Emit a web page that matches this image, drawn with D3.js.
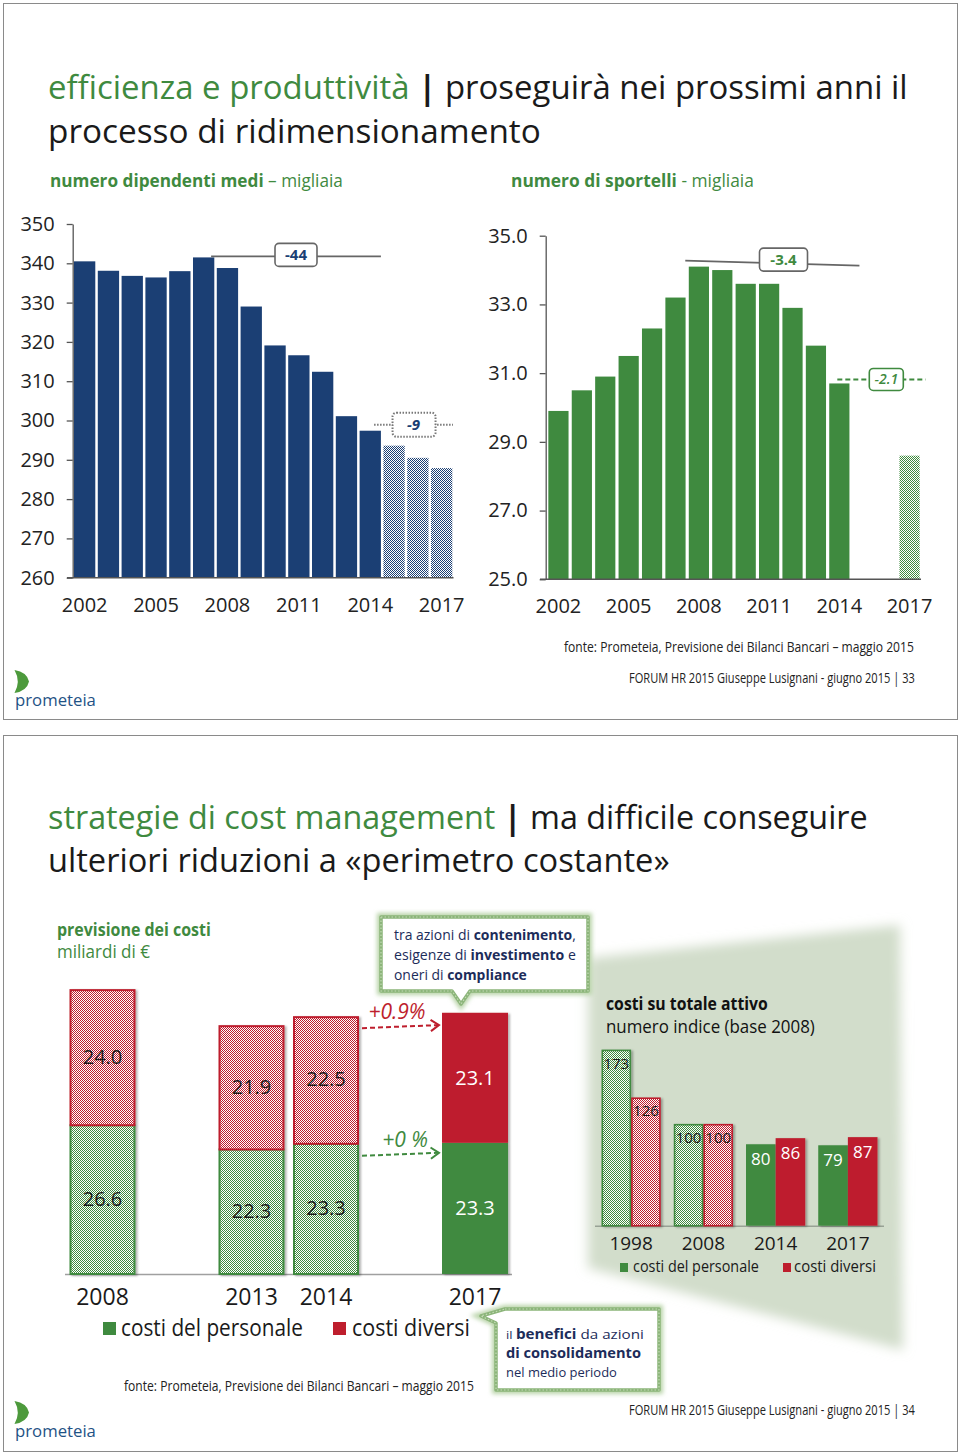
<!DOCTYPE html>
<html><head><meta charset="utf-8">
<script src="https://cdn.jsdelivr.net/npm/d3@7"></script>
<style>body{margin:0;background:#fff}svg{display:block}</style>
</head><body>
<script>
// ---------------- DATA ----------------
const years = ["2002","2003","2004","2005","2006","2007","2008","2009","2010","2011","2012","2013","2014","2015","2016","2017"];
const employees = [340.5,338.1,336.8,336.4,338.0,341.5,338.8,329.0,319.1,316.6,312.4,301.1,297.4,293.6,290.5,287.9];
const employeeForecastYears = ["2015","2016","2017"];
const branches = [29.9,30.5,30.9,31.5,32.3,33.2,34.1,34.0,33.6,33.6,32.9,31.8,30.7,null,null,28.6];
const branchForecastYears = ["2017"];
const employeeTicks = [260,270,280,290,300,310,320,330,340,350];
const branchTicks = [25,27,29,31,33,35];
const yearTickLabels = ["2002","2005","2008","2011","2014","2017"];
const employeeChanges = ["-44","-9"];
const branchChanges = ["-3.4","-2.1"];

const costYears = ["2008","2013","2014","2017"];
const costSlots = ["2008","gap-a","2013","2014","gap-b","2017"];
const staffCosts = [26.6,22.3,23.3,23.3];
const otherCosts = [24.0,21.9,22.5,23.1];
const costForecastYears = ["2017"];
const costChanges = ["+0.9%","+0 %"];

const indexYears = ["1998","2008","2014","2017"];
const staffIndex = [173,100,80,79];
const otherIndex = [126,100,86,87];
const indexSolidYears = ["2014","2017"];
const legendLabels = ["costi del personale","costi diversi"];

// ---------------- SETUP ----------------
const BLUE="#1b3f74", GREEN="#3f8a3f", RED="#be1e2d", NAVY="#1c2c5a", FONT="Open Sans";
const svg = d3.select("body").append("svg").attr("width",960).attr("height",1455);
const defs = svg.append("defs");
function checker(id,color){
  const p=defs.append("pattern").attr("id",id).attr("patternUnits","userSpaceOnUse").attr("width",2).attr("height",2);
  p.append("rect").attr("width",2).attr("height",2).attr("fill","#fff");
  p.append("rect").attr("width",1).attr("height",1).attr("fill",color);
  p.append("rect").attr("x",1).attr("y",1).attr("width",1).attr("height",1).attr("fill",color);
}
checker("chkBlue",BLUE); checker("chkGreen",GREEN); checker("chkRed",RED);
const sh=defs.append("filter").attr("id","shadow").attr("x","-20%").attr("y","-20%").attr("width","150%").attr("height","140%");
sh.append("feDropShadow").attr("dx",2).attr("dy",1).attr("stdDeviation",1.3).attr("flood-color","#000").attr("flood-opacity",0.3);
defs.append("filter").attr("id","blur").attr("x","-20%").attr("y","-20%").attr("width","140%").attr("height","140%")
  .append("feGaussianBlur").attr("stdDeviation",6);
defs.append("filter").attr("id","glow").attr("x","-20%").attr("y","-30%").attr("width","140%").attr("height","160%")
  .append("feGaussianBlur").attr("stdDeviation",2);

function fit(g,o){
  const t=g.append("text").attr("font-family",o.family||FONT).attr("font-size",o.size);
  o.parts.forEach(p=>{
    const ts=t.append("tspan").text(p.t).attr("fill",p.c||"#222")
      .attr("font-weight",p.b===true?700:(p.b||400)).attr("font-style",p.i?"italic":"normal");
    if(p.size) ts.attr("font-size",p.size);
  });
  const w=t.node().getComputedTextLength();
  const s=o.width? o.width/w : 1;
  let x0=o.x;
  if(o.anchor==="end") x0=o.x-w*s; else if(o.anchor==="middle") x0=o.x-w*s/2;
  t.attr("transform",`translate(${x0},${o.y}) scale(${s},1)`);
  return t;
}

// slide frames
svg.append("rect").attr("x",3.5).attr("y",3.5).attr("width",954).attr("height",716).attr("fill","#fff").attr("stroke","#8a8a8a");
svg.append("rect").attr("x",3.5).attr("y",735.5).attr("width",954).attr("height",716).attr("fill","#fff").attr("stroke","#8a8a8a");

function logo(dy){
  const g=svg.append("g").attr("transform",`translate(0,${dy})`);
  g.append("path").attr("d","M14.5,670 Q27,672 29,681.5 Q27,691 14.5,693 Q21,681.5 14.5,670 Z").attr("fill","#4d9a3c");
  fit(g,{x:15,y:706,size:17,width:81,parts:[{t:"prometeia",c:"#1f5285"}]});
}

// ---------------- SLIDE 1 ----------------
const s1=svg.append("g");
fit(s1,{x:48,y:99,size:33,width:860,parts:[{t:"efficienza e produttività",c:GREEN,b:500},{t:" | ",c:"#1a1a1a",b:700},{t:"proseguirà nei prossimi anni il",c:"#1a1a1a",b:500}]});
fit(s1,{x:48,y:143,size:33,width:493,parts:[{t:"processo di ridimensionamento",c:"#1a1a1a",b:500}]});
fit(s1,{x:50,y:187,size:18,width:293,parts:[{t:"numero dipendenti medi",c:GREEN,b:true},{t:" – migliaia",c:GREEN}]});
fit(s1,{x:511,y:187,size:18,width:243,parts:[{t:"numero di sportelli",c:GREEN,b:true},{t:" - migliaia",c:GREEN}]});

// employees chart
const xEmp=d3.scaleBand().domain(years).range([72.8,453.5]).paddingInner(0.105).paddingOuter(0.05);
const yEmp=d3.scaleLinear().domain([260,350]).range([577.7,224]);
const gE=s1.append("g");
gE.selectAll("rect").data(years.map((y,i)=>({year:y,v:employees[i]}))).join("rect")
  .attr("x",d=>xEmp(d.year)).attr("width",xEmp.bandwidth())
  .attr("y",d=>yEmp(d.v)).attr("height",d=>yEmp(260)-yEmp(d.v))
  .attr("fill",d=>employeeForecastYears.includes(d.year)?"url(#chkBlue)":BLUE);
const axE=gE.append("g").attr("transform","translate(72.7,0)")
  .call(d3.axisLeft(yEmp).tickValues(employeeTicks).tickSize(6).tickSizeOuter(0).tickPadding(12).tickFormat(d3.format("d")));
axE.attr("font-family",FONT).attr("font-size",20);
axE.selectAll("path,line").attr("stroke","#555").attr("stroke-width",1.3);
axE.selectAll("text").attr("fill","#222");
gE.append("line").attr("x1",67).attr("x2",453.5).attr("y1",yEmp(260)).attr("y2",yEmp(260)).attr("stroke","#555").attr("stroke-width",1.5);
gE.selectAll("text.xl").data(yearTickLabels).join("text").attr("class","xl")
  .attr("x",d=>xEmp(d)+xEmp.bandwidth()/2).attr("y",612).attr("text-anchor","middle")
  .attr("font-family",FONT).attr("font-size",20).attr("fill","#222").text(d=>d);
// annotations
{
  const bw=xEmp.bandwidth();
  const x1=xEmp("2007")+bw*0.85, x2=xEmp("2014")+bw, y=yEmp(d3.max(employees))-1;
  gE.append("line").attr("x1",x1).attr("x2",x2).attr("y1",y).attr("y2",y).attr("stroke","#666").attr("stroke-width",1.8);
  const cx=(x1+x2)/2;
  gE.append("rect").attr("x",cx-21).attr("y",y-13).attr("width",42).attr("height",23).attr("rx",4).attr("fill","#fff").attr("stroke","#666").attr("stroke-width",1.6);
  gE.append("text").attr("x",cx).attr("y",y+4).attr("text-anchor","middle").attr("font-family",FONT).attr("font-size",15).attr("font-weight",700).attr("fill",BLUE).text(employeeChanges[0]);
  const ya=yEmp(employees[years.indexOf("2014")])-6;
  const x3=xEmp("2014")+bw*0.68, x4=453;
  gE.append("line").attr("x1",x3).attr("x2",x4).attr("y1",ya).attr("y2",ya).attr("stroke","#777").attr("stroke-width",2).attr("stroke-dasharray","1.5,1.5");
  const cx2=(x3+x4)/2;
  gE.append("rect").attr("x",cx2-21).attr("y",ya-12).attr("width",43).attr("height",24).attr("rx",4).attr("fill","#fff").attr("stroke","#777").attr("stroke-width",2).attr("stroke-dasharray","1.5,1.5");
  gE.append("text").attr("x",cx2).attr("y",ya+5).attr("text-anchor","middle").attr("font-family",FONT).attr("font-size",15).attr("font-weight",700).attr("font-style","italic").attr("fill",BLUE).text(employeeChanges[1]);
}

// branches chart
const xBr=d3.scaleBand().domain(years).range([546,922]).paddingInner(0.137).paddingOuter(0.1);
const yBr=d3.scaleLinear().domain([25,35]).range([579.3,235.7]);
const gB=s1.append("g");
gB.selectAll("rect").data(years.map((y,i)=>({year:y,v:branches[i]})).filter(d=>d.v!=null)).join("rect")
  .attr("x",d=>xBr(d.year)).attr("width",xBr.bandwidth())
  .attr("y",d=>yBr(d.v)).attr("height",d=>yBr(25)-yBr(d.v))
  .attr("fill",d=>branchForecastYears.includes(d.year)?"url(#chkGreen)":GREEN);
const axB=gB.append("g").attr("transform","translate(545.7,0)")
  .call(d3.axisLeft(yBr).tickValues(branchTicks).tickSize(6).tickSizeOuter(0).tickPadding(12).tickFormat(d3.format(".1f")));
axB.attr("font-family",FONT).attr("font-size",20);
axB.selectAll("path,line").attr("stroke","#555").attr("stroke-width",1.3);
axB.selectAll("text").attr("fill","#222");
gB.append("line").attr("x1",540).attr("x2",921).attr("y1",yBr(25)).attr("y2",yBr(25)).attr("stroke","#555").attr("stroke-width",1.5);
gB.selectAll("text.xl").data(yearTickLabels).join("text").attr("class","xl")
  .attr("x",d=>xBr(d)+xBr.bandwidth()/2).attr("y",613).attr("text-anchor","middle")
  .attr("font-family",FONT).attr("font-size",20).attr("fill","#222").text(d=>d);
{
  const bw=xBr.bandwidth(), top=yBr(d3.max(branches));
  const x1=xBr("2008")-3.5, x2=xBr("2014")+bw+10;
  gB.append("line").attr("x1",x1).attr("x2",x2).attr("y1",top-6).attr("y2",top-1).attr("stroke","#666").attr("stroke-width",1.8);
  const cx=783.5, cy=top-7;
  gB.append("rect").attr("x",cx-24).attr("y",cy-11.5).attr("width",48).attr("height",23).attr("rx",4).attr("fill","#fff").attr("stroke","#666").attr("stroke-width",1.6);
  gB.append("text").attr("x",cx).attr("y",cy+5).attr("text-anchor","middle").attr("font-family",FONT).attr("font-size",15).attr("font-weight",700).attr("fill",GREEN).text(branchChanges[0]);
  const ya=yBr(branches[years.indexOf("2014")])-4;
  const x3=xBr("2014")+bw*0.4, x4=xBr("2017")+bw+6;
  gB.append("line").attr("x1",x3).attr("x2",x4).attr("y1",ya).attr("y2",ya).attr("stroke",GREEN).attr("stroke-width",2).attr("stroke-dasharray","5,3");
  const cx2=886.3;
  gB.append("rect").attr("x",cx2-17).attr("y",ya-11).attr("width",34).attr("height",22).attr("rx",4).attr("fill","#fff").attr("stroke",GREEN).attr("stroke-width",1.6);
  gB.append("text").attr("x",cx2).attr("y",ya+5).attr("text-anchor","middle").attr("font-family",FONT).attr("font-size",14).attr("font-weight",600).attr("font-style","italic").attr("fill",GREEN).text(branchChanges[1]);
}
fit(s1,{x:914,y:652,size:14,width:350,anchor:"end",parts:[{t:"fonte: Prometeia, Previsione dei Bilanci Bancari – maggio 2015",c:"#222"}]});
fit(s1,{x:915,y:683,size:14,width:286,anchor:"end",parts:[{t:"FORUM HR 2015  Giuseppe Lusignani  - giugno 2015 | 33",c:"#222"}]});
logo(0);

// ---------------- SLIDE 2 ----------------
const s2=svg.append("g");
fit(s2,{x:48,y:829,size:33,width:820,parts:[{t:"strategie di cost management",c:GREEN,b:500},{t:" | ",c:"#1a1a1a",b:700},{t:"ma difficile conseguire",c:"#1a1a1a",b:500}]});
fit(s2,{x:48,y:872,size:33,width:622,parts:[{t:"ulteriori riduzioni a «perimetro costante»",c:"#1a1a1a",b:500}]});
fit(s2,{x:57,y:936,size:18,width:154,parts:[{t:"previsione dei costi",c:GREEN,b:true}]});
fit(s2,{x:57,y:958,size:18,width:93,parts:[{t:"miliardi di €",c:GREEN}]});

// inset background
s2.append("polygon").attr("points","588,958 900,925 903,1350 588,1268").attr("fill","#d2ddcb").attr("filter","url(#blur)");

// cost stacked chart
const xC=d3.scaleBand().domain(costSlots).range([65.25,512.25]).paddingInner(0.114).paddingOuter(0.057);
const yC=d3.scaleLinear().domain([0,55]).range([1274,1274-5.63*55]);
const gC=s2.append("g");
const costData=costYears.map((y,i)=>({year:y,staff:staffCosts[i],other:otherCosts[i],solid:costForecastYears.includes(y)}));
gC.append("line").attr("x1",65).attr("x2",512).attr("y1",yC(0)+0.5).attr("y2",yC(0)+0.5).attr("stroke","#a0a0a0").attr("stroke-width",1.5);
const bwC=xC.bandwidth();
costData.forEach(d=>{
  const x=xC(d.year);
  const gg=gC.append("g").attr("filter","url(#shadow)");
  if(d.solid){
    gg.append("rect").attr("x",x).attr("width",bwC).attr("y",yC(d.staff)).attr("height",yC(0)-yC(d.staff)).attr("fill",GREEN);
    gg.append("rect").attr("x",x).attr("width",bwC).attr("y",yC(d.staff+d.other)).attr("height",yC(d.staff)-yC(d.staff+d.other)).attr("fill",RED);
  } else {
    gg.append("rect").attr("x",x+1).attr("width",bwC-2).attr("y",yC(d.staff)+1).attr("height",yC(0)-yC(d.staff)-1).attr("fill","url(#chkGreen)").attr("stroke",GREEN).attr("stroke-width",2);
    gg.append("rect").attr("x",x+1).attr("width",bwC-2).attr("y",yC(d.staff+d.other)+1).attr("height",yC(d.staff)-yC(d.staff+d.other)).attr("fill","url(#chkRed)").attr("stroke",RED).attr("stroke-width",2);
  }
  const tc=d.solid?"#fff":"#1a1a1a";
  gC.append("text").attr("x",x+bwC/2).attr("y",(yC(0)+yC(d.staff))/2+7).attr("text-anchor","middle").attr("font-family",FONT).attr("font-size",20).attr("fill",tc).text(d3.format(".1f")(d.staff));
  gC.append("text").attr("x",x+bwC/2).attr("y",(yC(d.staff)+yC(d.staff+d.other))/2+7).attr("text-anchor","middle").attr("font-family",FONT).attr("font-size",20).attr("fill",tc).text(d3.format(".1f")(d.other));
  gC.append("text").attr("x",x+bwC/2).attr("y",1305).attr("text-anchor","middle").attr("font-family",FONT).attr("font-size",23).attr("fill","#1a1a1a").text(d.year);
});
function arrow(g,x1,y1,x2,y2,color){
  g.append("line").attr("x1",x1).attr("y1",y1).attr("x2",x2-2).attr("y2",y2).attr("stroke",color).attr("stroke-width",2).attr("stroke-dasharray","5,3");
  const a=Math.atan2(y2-y1,x2-x1);
  const p=(ang)=>[x2-10*Math.cos(a+ang),y2-10*Math.sin(a+ang)];
  const [ax,ay]=p(0.6),[bx,by]=p(-0.6);
  g.append("path").attr("d",`M${ax},${ay} L${x2},${y2} L${bx},${by}`).attr("fill","none").attr("stroke",color).attr("stroke-width",2);
}
{
  const i14=costYears.indexOf("2014");
  const xa=xC("2014")+bwC+3, xb=xC("2017")-3;
  const yr=yC(staffCosts[i14]+otherCosts[i14])+12, yg=yC(staffCosts[i14])+13;
  arrow(gC,xa,yr,xb,yr-3,RED);
  arrow(gC,xa,yg,xb,yg-3,GREEN);
  gC.append("text").attr("x",397).attr("y",yr-9).attr("text-anchor","middle").attr("font-family",FONT).attr("font-size",21).attr("font-style","italic").attr("fill",RED).text(costChanges[0]);
  gC.append("text").attr("x",405).attr("y",yg-9).attr("text-anchor","middle").attr("font-family",FONT).attr("font-size",21).attr("font-style","italic").attr("fill",GREEN).text(costChanges[1]);
}
// legend
const leg=s2.append("g");
leg.append("rect").attr("x",103).attr("y",1322).attr("width",13).attr("height",13).attr("fill",GREEN);
fit(leg,{x:121,y:1336,size:23,width:182,parts:[{t:legendLabels[0],c:"#1a1a1a"}]});
leg.append("rect").attr("x",333).attr("y",1322).attr("width",13).attr("height",13).attr("fill",RED);
fit(leg,{x:352,y:1336,size:23,width:118,parts:[{t:legendLabels[1],c:"#1a1a1a"}]});

// callouts
function callout(d){
  s2.append("path").attr("d",d).attr("fill","none").attr("stroke","#b9d4a9").attr("stroke-width",8).attr("filter","url(#glow)");
  s2.append("path").attr("d",d).attr("fill","#fff").attr("stroke","#8cb57a").attr("stroke-width",3.5).attr("stroke-linejoin","round");
  s2.append("path").attr("d",d).attr("fill","none").attr("stroke","#c4dbb6").attr("stroke-width",1.2).attr("stroke-dasharray","1.5,2");
}
callout("M381,917 H588 V991 H470 L461,1004 L452,991 H381 Z");
fit(s2,{x:394,y:940,size:14.5,width:182,parts:[{t:"tra azioni di ",c:NAVY},{t:"contenimento",c:NAVY,b:true},{t:",",c:NAVY}]});
fit(s2,{x:394,y:960,size:14.5,width:182,parts:[{t:"esigenze di ",c:NAVY},{t:"investimento",c:NAVY,b:true},{t:" e",c:NAVY}]});
fit(s2,{x:394,y:980,size:14.5,width:133,parts:[{t:"oneri di ",c:NAVY},{t:"compliance",c:NAVY,b:true}]});
callout("M505,1309 H659 V1390 H496 V1323 L481,1316 Z");
fit(s2,{x:506,y:1339,size:13.5,width:138,parts:[{t:"il ",c:NAVY,size:11.5},{t:"benefici",c:NAVY,b:true},{t:" da azioni",c:NAVY}]});
fit(s2,{x:506,y:1358,size:13.5,width:135,parts:[{t:"di consolidamento",c:NAVY,b:true}]});
fit(s2,{x:506,y:1377,size:13.5,width:111,parts:[{t:"nel medio periodo",c:NAVY}]});

// inset chart
fit(s2,{x:606,y:1010,size:17,width:162,parts:[{t:"costi su totale attivo",c:"#111",b:true}]});
fit(s2,{x:606,y:1033,size:19,width:209,parts:[{t:"numero indice (base 2008)",c:"#111"}]});
const xI=d3.scaleBand().domain(indexYears).range([595,884]).paddingInner(0.18).paddingOuter(0.09);
const xS=d3.scaleBand().domain(["staff","other"]).range([0,xI.bandwidth()]);
const yI=d3.scaleLinear().domain([0,180]).range([1225.7,1225.7-1.018*180]);
const gI=s2.append("g");
gI.append("line").attr("x1",595).attr("x2",884).attr("y1",yI(0)+0.5).attr("y2",yI(0)+0.5).attr("stroke","#98a295").attr("stroke-width",1.5);
indexYears.forEach((yr,i)=>{
  const solid=indexSolidYears.includes(yr);
  [["staff",staffIndex[i],GREEN,"chkGreen"],["other",otherIndex[i],RED,"chkRed"]].forEach(([k,v,c,pat])=>{
    const x=xI(yr)+xS(k), w=xS.bandwidth();
    const gg=gI.append("g").attr("filter","url(#shadow)");
    if(solid) gg.append("rect").attr("x",x).attr("width",w).attr("y",yI(v)).attr("height",yI(0)-yI(v)).attr("fill",c);
    else gg.append("rect").attr("x",x+0.8).attr("width",w-1.6).attr("y",yI(v)+0.8).attr("height",yI(0)-yI(v)-0.8).attr("fill",`url(#${pat})`).attr("stroke",c).attr("stroke-width",1.6);
    gI.append("text").attr("x",x+w/2).attr("y",yI(v)+(solid?21:19)).attr("text-anchor","middle")
      .attr("font-family",FONT).attr("font-size",solid?17:15).attr("fill",solid?"#fff":"#1a1a1a").text(v);
  });
  gI.append("text").attr("x",xI(yr)+xI.bandwidth()/2).attr("y",1250).attr("text-anchor","middle").attr("font-family",FONT).attr("font-size",19).attr("fill","#1a1a1a").text(yr);
});
gI.append("rect").attr("x",620).attr("y",1263).attr("width",8).attr("height",9).attr("fill",GREEN);
fit(gI,{x:633,y:1272,size:16,width:126,parts:[{t:legendLabels[0],c:"#1a1a1a"}]});
gI.append("rect").attr("x",783).attr("y",1263).attr("width",8).attr("height",9).attr("fill",RED);
fit(gI,{x:794,y:1272,size:16,width:82,parts:[{t:legendLabels[1],c:"#1a1a1a"}]});

fit(s2,{x:124,y:1391,size:14,width:350,parts:[{t:"fonte: Prometeia, Previsione dei Bilanci Bancari – maggio 2015",c:"#222"}]});
fit(s2,{x:915,y:1415,size:14,width:286,anchor:"end",parts:[{t:"FORUM HR 2015  Giuseppe Lusignani  - giugno 2015 | 34",c:"#222"}]});
logo(731);
</script>
</body></html>
